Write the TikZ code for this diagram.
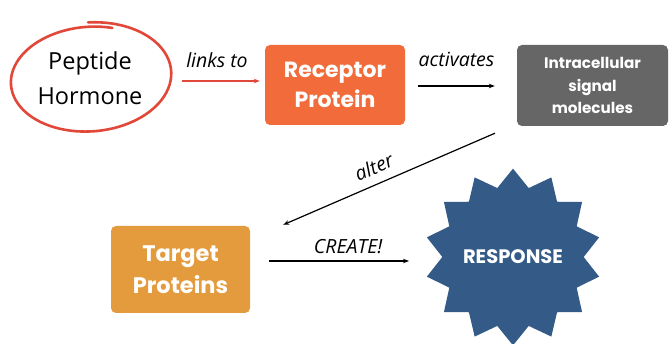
\documentclass[tikz,border=0pt]{standalone}
\usepackage{fontspec}
\setmainfont{Open Sans}
\newfontfamily\boxfont{Poppins}
\usetikzlibrary{shapes.geometric,arrows.meta}
\definecolor{receptorC}{HTML}{F26C3B}
\definecolor{intraC}{HTML}{666666}
\definecolor{targetC}{HTML}{E39B3D}
\definecolor{respC}{HTML}{345A87}
\definecolor{ringC}{HTML}{E2483A}

\begin{document}
\begin{tikzpicture}[x=1pt,y=-1pt,
  box/.style={rectangle, rounded corners=5pt, text=white, align=center, inner sep=0pt},
  lbl/.style={font=\fontsize{19.5}{22}\selectfont\itshape, inner sep=0pt},
  link/.style={line width=1.2pt, -{Stealth[length=6pt,width=4.5pt]}},
]
\fill[white] (0,0) rectangle (670,344);
\useasboundingbox (0,0) rectangle (670,344);

% hormone, circled by hand
\node[align=center, inner sep=0pt, minimum width=156pt, minimum height=108pt,
      font=\fontsize{23.5}{35}\selectfont] (ring) at (90,78) {Peptide\\Hormone};
\begin{scope}[shift={(ring.center)}, rotate=5]
  \draw[ringC, line width=2.6pt, line cap=round]
    plot[smooth, samples=90, domain=70:448, variable=\t]
      ({(78+0.012*(\t-70))*cos(\t)}, {-(51+0.012*(\t-70))*sin(\t)});
\end{scope}

% boxes
\node[box, fill=receptorC, minimum width=140pt, minimum height=80pt,
      font=\boxfont\bfseries\fontsize{22}{30}\selectfont] (receptor) at (335,85) {Receptor\\Protein};
\node[box, fill=intraC, minimum width=151pt, minimum height=81pt,
      font=\boxfont\bfseries\fontsize{15.2}{22.5}\selectfont] (intra) at (592.5,85.5) {Intracellular\\signal\\molecules};
\node[box, fill=targetC, minimum width=139pt, minimum height=87pt,
      font=\boxfont\bfseries\fontsize{22.5}{32}\selectfont] (target) at (180.5,269.5) {Target\\Proteins};
\node[star, star points=14, star point ratio=1.25, minimum size=176pt, inner sep=0pt,
      fill=respC, text=white, font=\boxfont\bfseries\fontsize{19.5}{22}\selectfont] (resp) at (513,257) {RESPONSE};

% connectors
\draw[link, ringC] ([shift={(14,3)}]ring.east) -- ([shift={(-5,-4)}]receptor.west)
  node[lbl, midway, above=13pt, xshift=-4pt, text=black] {links to};
\draw[link] ([shift={(13,1)}]receptor.east) -- ([shift={(-22,0.5)}]intra.west)
  node[lbl, midway, above=19pt] {activates};
\draw[link] ([shift={(-97.5,7)}]intra.south) -- ([shift={(33,-1)}]target.north east)
  node[lbl, pos=0.54, sloped, above=9pt] {alter};
\draw[link] ([shift={(19,-8.5)}]target.east) -- ([shift={(-104,4)}]resp.center)
  node[lbl, midway, above=7pt, xshift=9pt] {CREATE!};
\end{tikzpicture}
\end{document}
